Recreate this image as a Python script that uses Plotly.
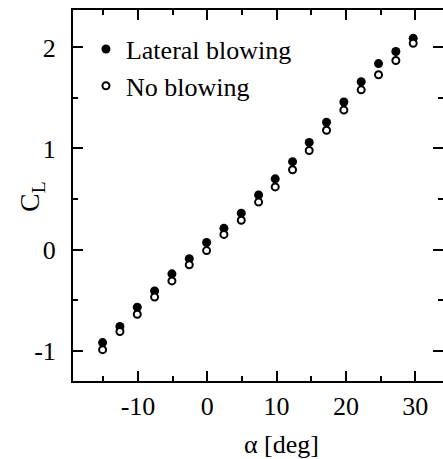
import plotly.graph_objects as go

alpha = [-15.1, -12.6, -10.1, -7.6, -5.1, -2.6, -0.1, 2.4, 4.9, 7.4, 9.8,
         12.3, 14.7, 17.2, 19.7, 22.2, 24.7, 27.2, 29.7]
cl_lateral = [-0.92, -0.76, -0.57, -0.41, -0.24, -0.09, 0.07, 0.21, 0.36, 0.54, 0.70,
              0.87, 1.06, 1.26, 1.46, 1.66, 1.84, 1.96, 2.09]
cl_none = [-0.99, -0.81, -0.64, -0.47, -0.31, -0.15, -0.01, 0.15, 0.29, 0.47, 0.62,
           0.79, 0.98, 1.18, 1.38, 1.58, 1.73, 1.87, 2.04]

x_tickvals = [-10, 0, 10, 20, 30]
x_ticktext = ["-10", "0", "10", "20", "30"]
y_tickvals = [-1, 0, 1, 2]
y_ticktext = ["-1", "0", "1", "2"]

FONT = "Liberation Serif"
W, H = 443, 459
L, R, T, B = 73, 0, 10, 78
PW, PH = W - L - R, H - T - B

fig = go.Figure()
fig.add_trace(go.Scatter(
    x=alpha, y=cl_lateral, mode="markers", name="Lateral blowing",
    marker=dict(symbol="circle", size=9, color="black", line=dict(width=0))))
fig.add_trace(go.Scatter(
    x=alpha, y=cl_none, mode="markers", name="No blowing",
    marker=dict(symbol="circle", size=7, color="white", line=dict(width=2, color="black"))))

xr = [-19.37, 34.0]
yr = [-1.30, 2.37]

common_minor = dict(ticks="inside", ticklen=5, tickwidth=1.5, tickcolor="black")

fig.update_layout(
    width=W, height=H,
    margin=dict(l=L, r=R, t=T, b=B, autoexpand=False),
    paper_bgcolor="white", plot_bgcolor="white",
    font=dict(family=FONT, size=26, color="black"),
    showlegend=True,
    legend=dict(x=0.035, y=0.958, xanchor="left", yanchor="top",
                bgcolor="rgba(0,0,0,0)", font=dict(size=26, family=FONT),
                itemsizing="trace", tracegroupgap=0),
    xaxis=dict(range=xr, showgrid=False, zeroline=False, automargin=False,
               showline=True, linecolor="black", linewidth=2, mirror="ticks",
               ticks="inside", ticklen=10, tickwidth=2, tickcolor="black",
               tickmode="array", tickvals=x_tickvals, ticktext=x_ticktext,
               minor=dict(tickmode="linear", tick0=0, dtick=5, **common_minor),
               tickfont=dict(size=26, family=FONT), ticklabelstandoff=1),
    yaxis=dict(range=yr, showgrid=False, zeroline=False, automargin=False,
               showline=True, linecolor="black", linewidth=2, mirror=False,
               ticks="inside", ticklen=10, tickwidth=2, tickcolor="black",
               tickmode="array", tickvals=y_tickvals, ticktext=y_ticktext,
               minor=dict(tickmode="linear", tick0=0, dtick=0.5, **common_minor),
               tickfont=dict(size=26, family=FONT), ticklabelstandoff=10),
    yaxis2=dict(range=yr, overlaying="y", side="right", showgrid=False, zeroline=False,
                automargin=False, showline=False,
                ticks="inside", ticklen=10, tickwidth=2, tickcolor="black",
                tickmode="array", tickvals=y_tickvals,
                minor=dict(tickmode="linear", tick0=0, dtick=0.5, **common_minor),
                showticklabels=False),
)
# invisible trace to activate the right axis ticks
fig.add_trace(go.Scatter(x=[alpha[0]], y=[cl_none[0]], yaxis="y2", mode="markers",
                         marker=dict(opacity=0), showlegend=False, hoverinfo="skip"))

# axis titles
fig.add_annotation(text="\u03b1 [deg]", xref="paper", yref="paper",
                   x=(281 - L) / PW, y=-(444 - (H - B)) / PH,
                   xanchor="center", yanchor="middle", showarrow=False,
                   font=dict(size=26, family=FONT))
fig.add_annotation(text="C<sub>L</sub>", xref="paper", yref="paper",
                   x=(31 - L) / PW, y=((H - B) - 197) / PH, textangle=-90,
                   xanchor="center", yanchor="middle", showarrow=False,
                   font=dict(size=28, family=FONT))

fig.write_html("out.html", config={"displayModeBar": False},
               post_script="document.body.style.margin='0';document.body.style.overflow='hidden';")
